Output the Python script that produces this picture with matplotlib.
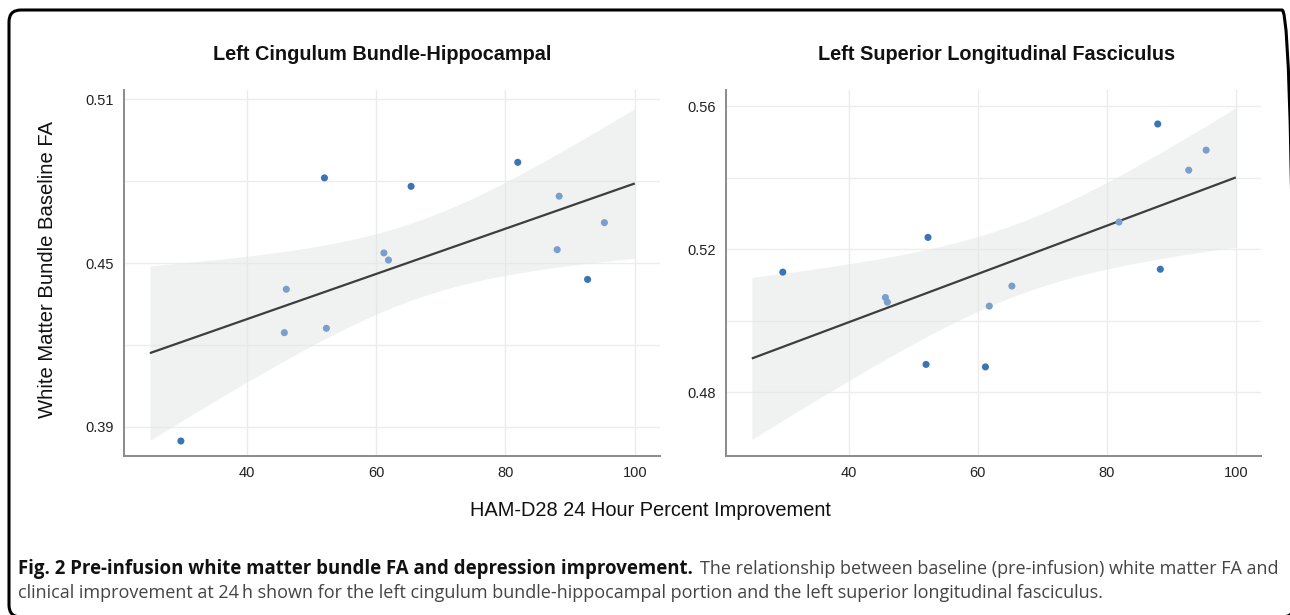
import numpy as np
import matplotlib
matplotlib.use("Agg")
import matplotlib.pyplot as plt
from matplotlib.patches import FancyBboxPatch
from matplotlib import font_manager

# ---------------- data ----------------
titles = ["Left Cingulum Bundle-Hippocampal", "Left Superior Longitudinal Fasciculus"]

cb_x = [29.8, 45.8, 46.1, 52.0, 52.3, 61.2, 61.9, 65.4, 81.9, 88.0, 88.3, 92.7, 95.3]
cb_y = [0.3848, 0.4245, 0.4404, 0.4812, 0.4261, 0.4537, 0.4511, 0.4781, 0.4869, 0.4549, 0.4745, 0.4440, 0.4648]
cb_group = ["out", "in", "in", "out", "in", "in", "in", "out", "out", "in", "in", "out", "in"]

slf_x = [29.8, 45.7, 46.0, 52.0, 52.3, 61.2, 61.8, 65.3, 81.9, 87.9, 88.3, 92.7, 95.4]
slf_y = [0.5136, 0.5065, 0.5052, 0.4878, 0.5233, 0.4871, 0.5041, 0.5097, 0.5276, 0.5550, 0.5144, 0.5421, 0.5477]
slf_group = ["out", "in", "in", "out", "out", "out", "in", "in", "in", "out", "out", "in", "in"]

x_ticks = [40, 60, 80, 100]
cb_yticks = [0.39, 0.45, 0.51]
cb_yminor = [0.42, 0.48]
slf_yticks = [0.48, 0.52, 0.56]
slf_yminor = [0.50, 0.54]

fit_range = (25, 100)
t_crit = 2.201  # t(0.975, df=11)

ylabel = "White Matter Bundle Baseline FA"
xlabel = "HAM-D28 24 Hour Percent Improvement"
cap_bold = "Fig. 2 Pre-infusion white matter bundle FA and depression improvement."
cap_reg1 = "The relationship between baseline (pre-infusion) white matter FA and"
cap_reg2 = ("clinical improvement at 24\u2009h shown for the left cingulum bundle-hippocampal "
            "portion and the left superior longitudinal fasciculus.")

# ---------------- style ----------------
W, H = 1290, 615
DPI = 100
colors = {"out": "#3a74b2", "in": "#7b9ecb"}
tick_fam = ["Liberation Sans", "DejaVu Sans"]

avail = {f.name for f in font_manager.fontManager.ttflist}
cap_fam = "Liberation Sans Narrow" if "Liberation Sans Narrow" in avail else "Open Sans"

fig = plt.figure(figsize=(W / DPI, H / DPI), dpi=DPI)
fig.patch.set_facecolor("white")


def px_axes(x0, y0, x1, y1):
    return fig.add_axes([x0 / W, 1 - y1 / H, (x1 - x0) / W, (y1 - y0) / H])


def draw_panel(ax, xs, ys, groups, yticks, yminor, ylim):
    xs = np.asarray(xs)
    ys = np.asarray(ys)
    ax.set_xlim(21.0, 103.9)
    ax.set_ylim(*ylim)
    ax.set_facecolor("white")
    # grid
    for t in x_ticks:
        ax.axvline(t, color="#ebebeb", lw=1.0, zorder=0)
    for t in list(yticks) + list(yminor):
        ax.axhline(t, color="#ededed", lw=1.0, zorder=0)
    # regression + CI
    n = len(xs)
    b, a = np.polyfit(xs, ys, 1)
    resid = ys - (a + b * xs)
    s = np.sqrt(np.sum(resid ** 2) / (n - 2))
    xg = np.linspace(fit_range[0], fit_range[1], 200)
    yg = a + b * xg
    se = s * np.sqrt(1.0 / n + (xg - xs.mean()) ** 2 / np.sum((xs - xs.mean()) ** 2))
    ax.fill_between(xg, yg - t_crit * se, yg + t_crit * se, color="#e3e7e7", alpha=0.5,
                    lw=0, zorder=1)
    ax.plot(xg, yg, color="#3d3d3d", lw=1.6, zorder=2, solid_capstyle="butt")
    for g in ("in", "out"):
        m = np.array([gg == g for gg in groups])
        ax.scatter(xs[m], ys[m], s=26, color=colors[g], edgecolors="none", zorder=3)
    # axes
    ax.set_xticks(x_ticks)
    ax.set_xticklabels([str(t) for t in x_ticks])
    ax.set_yticks(yticks)
    ax.set_yticklabels([f"{t:.2f}" for t in yticks])
    ax.tick_params(length=0, labelsize=10.5, colors="#222222", pad=7)
    for lab in ax.get_xticklabels() + ax.get_yticklabels():
        lab.set_family(tick_fam)
    for sp in ("top", "right"):
        ax.spines[sp].set_visible(False)
    for sp in ("left", "bottom"):
        ax.spines[sp].set_color("#8a8a8a")
        ax.spines[sp].set_linewidth(1.4)


ax1 = px_axes(124, 90, 660, 456)
draw_panel(ax1, cb_x, cb_y, cb_group, cb_yticks, cb_yminor, (0.3793, 0.5134))
ax2 = px_axes(726, 90, 1261, 456)
draw_panel(ax2, slf_x, slf_y, slf_group, slf_yticks, slf_yminor, (0.4622, 0.5645))

# titles and labels
fig.text(382 / W, 1 - 55 / H, titles[0], ha="center", va="center", fontsize=14.3,
         fontweight="bold", family=tick_fam, color="#111111")
fig.text(997 / W, 1 - 55 / H, titles[1], ha="center", va="center", fontsize=14.3,
         fontweight="bold", family=tick_fam, color="#111111")
fig.text(48 / W, 1 - 269 / H, ylabel, rotation=90, ha="center", va="center",
         fontsize=14.6, family=tick_fam, color="#111111")
fig.text(650 / W, 1 - 510 / H, xlabel, ha="center", va="center",
         fontsize=14.4, family=tick_fam, color="#111111")

# caption (size fitted to measured widths)
renderer = fig.canvas.get_renderer()


def fit_text(x_px, base_px, txt, target_w, **kw):
    t = fig.text(x_px / W, 1 - base_px / H, txt, ha="left", va="baseline",
                 fontsize=12, family=[cap_fam, "DejaVu Sans"], **kw)
    w = t.get_window_extent(renderer).width
    t.set_fontsize(12 * target_w / w)
    return t


tb = fit_text(18, 574, cap_bold, 672, fontweight="bold", color="#111111")
tr = fit_text(700, 574, cap_reg1, 578, color="#444444")
t2 = fit_text(18, 598, cap_reg2, 1087, color="#444444")

# rounded frame (right and bottom edges run just past the image border)
frame = FancyBboxPatch((9, H - 617), 1285, 607, boxstyle="round,pad=0,rounding_size=12",
                       transform=None, facecolor="none", edgecolor="black", lw=2.2,
                       zorder=10)
fig.patches.append(frame)

fig.savefig("out.png", dpi=DPI, facecolor="white")
